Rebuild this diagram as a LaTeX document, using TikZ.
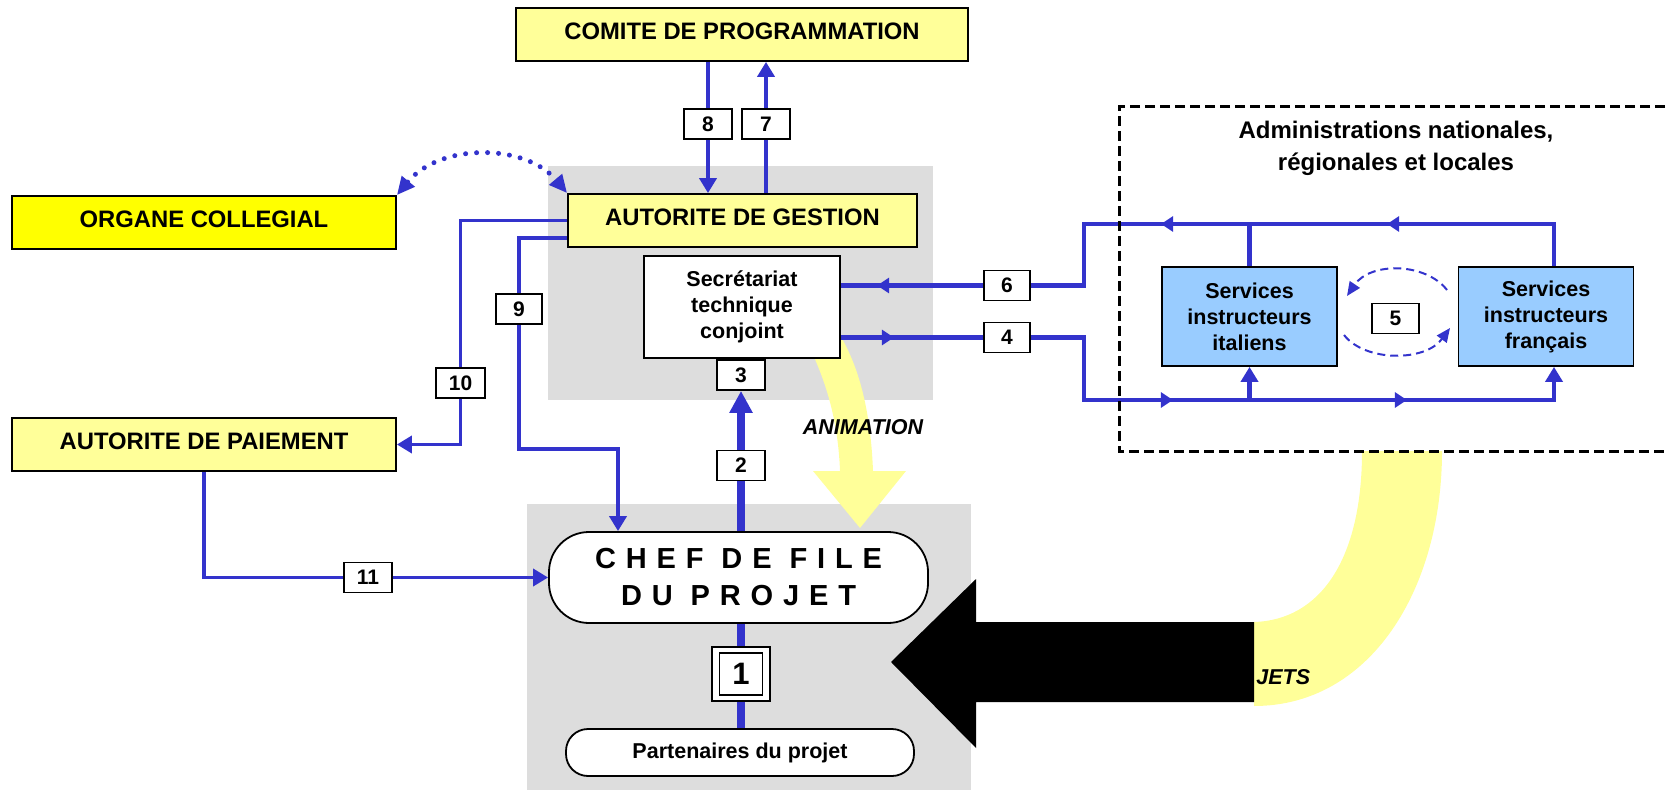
\documentclass[tikz,border=0pt]{standalone}
\usepackage{fontspec}
\setmainfont{Liberation Sans}
\usetikzlibrary{arrows.meta,calc,decorations.markings}
\definecolor{lnblue}{HTML}{3333CC}
\definecolor{paleyellow}{HTML}{FFFF99}
\definecolor{brightyellow}{HTML}{FFFF00}
\definecolor{panelgray}{HTML}{DDDDDD}
\definecolor{svcblue}{HTML}{99CCFF}
\pgfdeclarelayer{bg}
\pgfdeclarelayer{wires}
\pgfsetlayers{bg,wires,main}

\begin{document}
\begin{tikzpicture}[x=0.5pt,y=-0.5pt,
  box/.style={draw=black,line width=0.9pt,inner sep=0pt,align=center},
  hdr/.style={box,fill=paleyellow,font=\bfseries\fontsize{11.9}{14}\selectfont,minimum height=26.5pt,text depth=3.5pt},
  num/.style={box,fill=white,font=\bfseries\fontsize{10.5}{12}\selectfont,minimum width=24pt,minimum height=15pt},
  svc/.style={box,fill=svcblue,font=\bfseries\fontsize{10.75}{13}\selectfont,minimum width=87.5pt,minimum height=49.5pt},
  flow/.style={draw=lnblue,line width=2.3pt},
  thinflow/.style={draw=lnblue,line width=1.8pt},
  thickflow/.style={draw=lnblue,line width=3.8pt},
  arrowA/.style={-{Triangle[length=7.5pt,width=8.5pt]}},
  arrowB/.style={-{Triangle[length=11pt,width=11pt]}},
  midtips/.style 2 args={postaction={decorate},decoration={markings,
      mark=at position #1 with {\arrow{Triangle[length=6pt,width=7.5pt]}},
      mark=at position #2 with {\arrow{Triangle[length=6pt,width=7.5pt]}}}},
  midtip/.style={postaction={decorate},decoration={markings,
      mark=at position #1 with {\arrow{Triangle[length=6pt,width=7.5pt]}}}},
  labtxt/.style={font=\bfseries\itshape\fontsize{10.75}{13}\selectfont,inner sep=0pt}
]
\useasboundingbox (0,0) rectangle (1668,790);

% ---- backgrounds and wide arrows
\begin{pgfonlayer}{bg}
  \fill[panelgray] (548,166) rectangle (933,400);
  \fill[panelgray] (527,504) rectangle (971,790);
  % animation arrow
  \fill[paleyellow] (806,340) .. controls (826,380) and (838,420) .. (840,471)
     -- (813,471) -- (860,528) -- (906,471) -- (873,471)
     .. controls (871,420) and (862,370) .. (838,332) -- cycle;
  % projects band
  \fill[paleyellow] (1362,451) -- (1442,451) .. controls (1442,590) and (1370,706) .. (1254,706)
     -- (1254,622) .. controls (1320,620) and (1362,560) .. (1362,451) -- cycle;
\end{pgfonlayer}

% frame of the national administrations
\draw[black,line width=1.5pt,dash pattern=on 5pt off 2.5pt]
  (1680,107) -- (1119,107) -- (1119,451) -- (1680,451);

% big black arrow
\fill[black] (1254,622) -- (976,622) -- (976,579) -- (891,662) -- (976,748)
  -- (976,702) -- (1254,702) -- cycle;

% ---- main boxes
\node[hdr,minimum width=226pt] (comite) at (742,34.5) {COMITE DE PROGRAMMATION};
\node[hdr,minimum width=174.5pt] (gestion) at (742.5,220.5) {AUTORITE DE GESTION};
\node[hdr,fill=brightyellow,minimum width=192pt] (organe) at (204,222.5) {ORGANE COLLEGIAL};
\node[hdr,minimum width=192pt] (paiement) at (204,444.5) {AUTORITE DE PAIEMENT};
\node[box,fill=white,minimum width=98pt,minimum height=51pt,
      font=\bfseries\fontsize{10.75}{13}\selectfont] (secr) at (742,307)
      {Secrétariat\\technique\\conjoint};
\node[svc] (ital) at (1249.5,316.5) {Services\\instructeurs\\italiens};
\node[svc] (fr) at (1546,316.5) {Services\\instructeurs\\français};
\node[font=\bfseries\fontsize{12}{16}\selectfont,align=center,inner sep=0pt] (admin) at (1396,148)
      {Administrations nationales,\\régionales et locales};
\node[box,fill=white,rounded corners=20pt,minimum width=189.5pt,minimum height=45.5pt,
      font=\bfseries\fontsize{14.5}{18.5}\selectfont\addfontfeature{LetterSpace=34}] (chef) at (738.5,577.5)
      {CHEF DE FILE\\DU PROJET};
\node[box,fill=white,rounded corners=11pt,minimum width=174pt,minimum height=23.5pt,
      font=\bfseries\fontsize{10.75}{13}\selectfont] (part) at (740,752.5) {Partenaires du projet};

\node[labtxt] (anim) at (863,427.5) {ANIMATION};
\node[labtxt,anchor=west] (jets) at (1256,677) {JETS};

% ---- numbered tags
\node[num] (b8) at (708,124) {8};
\node[num] (b7) at (766,124) {7};
\node[num] (b3) at (741,375) {3};
\node[num] (b2) at (741,465.5) {2};
\node[num,minimum width=23pt] (b6) at (1007,285.5) {6};
\node[num,minimum width=23pt] (b4) at (1007,337.5) {4};
\node[num,minimum width=23.5pt] (b5) at (1395.5,318.5) {5};
\node[num,minimum width=23pt] (b9) at (519,309) {9};
\node[num,minimum width=24.5pt] (b10) at (460.5,383) {10};
\node[num] (b11) at (368,577.5) {11};
\node[box,fill=white,minimum width=29pt,minimum height=27pt] (b1) at (741,674) {};
\node[box,minimum width=21.5pt,minimum height=21pt,
      font=\bfseries\fontsize{15.5}{18}\selectfont] (b1in) at (741,674) {1};

% ---- connectors
\coordinate (g9) at ($(gestion.west)+(0,17.5)$);
\coordinate (c9) at (618,449);
\coordinate (busTL) at (1084,224);
\coordinate (busBL) at (1084,400);
\coordinate (a5s) at (1447,290);
\coordinate (a5e) at (1347,296);
\coordinate (a5s2) at (1344,335);
\coordinate (a5e2) at (1450,328);

\begin{pgfonlayer}{wires}
  \draw[flow,arrowA] (comite.south -| b8) -- (gestion.north -| b8);
  \draw[flow,arrowA] (gestion.north -| b7) -- (comite.south -| b7);
  \draw[thinflow,arrowA] (gestion.west) -| (b10.center) |- (paiement.east);
  \draw[flow,arrowA] (g9) -| (b9.center) |- (c9) -- (c9 |- chef.north);
  \draw[thickflow,arrowB] (chef.north -| b3) -- (b3.south);
  \draw[thickflow] (chef.south -| b1) -- (part.north -| b1);
  \draw[thinflow,arrowA] (paiement.south) |- (chef.west);
  % returns from the instructing services
  \draw[flow,midtips={104.5pt}{217.5pt}] ([xshift=4pt]fr.north) |- (busTL) |- (b6.east);
  \draw[flow] (ital.north) -- (ital.north |- busTL);
  \draw[flow,midtip=53pt] (b6.west) -- (b6.west -| secr.east);
  % dispatch to the instructing services
  \draw[flow,midtip=26.5pt] (secr.east |- b4.west) -- (b4.west);
  \draw[flow,arrowA,midtips={102.25pt}{219.25pt}] (b4.east) -| (busBL) -| ([xshift=4pt]fr.south);
  \draw[flow,arrowA] (ital.south |- busBL) -- (ital.south);
  % exchange between the two services
  \draw[lnblue,line width=1pt,dash pattern=on 4pt off 2.5pt,-{Triangle[length=7pt,width=6pt]}]
    (a5s) .. controls (1425,262) and (1370,262) .. (a5e);
  \draw[lnblue,line width=1pt,dash pattern=on 4pt off 2.5pt,-{Triangle[length=7pt,width=6pt]}]
    (a5s2) .. controls (1365,362) and (1425,362) .. (a5e2);
  % link with the collegial body
  \draw[lnblue,line width=2.5pt,line cap=round,dash pattern=on 0pt off 5.5pt,
        {Triangle[length=9pt,width=8pt]}-{Triangle[length=9pt,width=8pt]}]
    (organe.north east) .. controls (440,143) and (525,143) .. (gestion.north west);
\end{pgfonlayer}
\end{tikzpicture}
\end{document}
